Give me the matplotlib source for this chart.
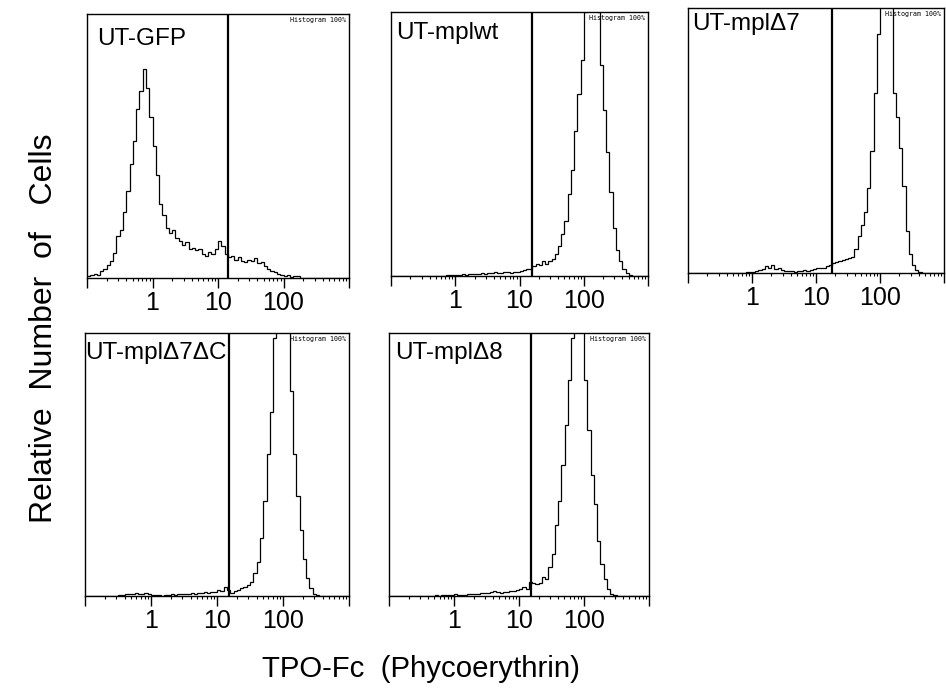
import matplotlib

matplotlib.use("Agg")
import matplotlib.pyplot as plt
import numpy as np
from matplotlib.ticker import FixedLocator, NullFormatter

plt.rcParams["font.family"] = ["Liberation Sans", "DejaVu Sans"]

# 80 channels spread evenly over four log decades (0.1 .. 1000)
N_BINS = 80
DECADES = (-1, 3)

PANEL_NAMES = ["UT-GFP", "UT-mplwt", "UT-mplΔ7", "UT-mplΔ7ΔC", "UT-mplΔ8"]

# gate marker position for each panel (TPO-Fc intensity)
GATES = [14.4, 15.8, 18.0, 15.4, 15.1]

# relative counts per channel, 100 = top of the frame
GFP_COUNTS = [
    0.6, 1.0, 1.5, 1.2, 2.8, 3.5, 5.0, 6.5, 9.5, 16,
    18, 25, 33, 43, 52, 64, 71, 79, 72, 61,
    50, 39, 28, 24, 19, 17, 18, 15, 14, 12.5,
    13.5, 11, 11.5, 10.5, 11, 9, 8.5, 10, 9, 11,
    14, 12, 9, 8, 8.5, 7, 8, 6.5, 6, 7,
    6.5, 7.5, 5.5, 6, 4.5, 3.5, 2.5, 2.2, 1.5, 1.2,
    0.8, 1.0, 0.5, 0.7, 0.8, 0, 0, 0, 0, 0,
    0, 0, 0, 0, 0, 0, 0, 0, 0, 0,
]
MPLWT_COUNTS = [
    0, 0, 0, 0, 0, 0, 0, 0, 0, 0,
    0, 0, 0, 0, 0, 0, 0, 0.2, 0.3, 0.2,
    0.4, 0.3, 0.6, 0.4, 0.6, 0.7, 0.9, 0.8, 1.1, 0.9,
    1.3, 1.0, 1.4, 1.1, 1.2, 1.6, 1.4, 1.3, 1.7, 1.5,
    1.9, 2.2, 2.5, 2.8, 3.8, 4.6, 4.0, 5.5, 4.6, 5.8,
    6.6, 8.5, 11.5, 16, 21, 31, 40, 55, 69, 82,
    100, 112, 118, 110, 100, 80, 63, 47, 32, 18,
    10, 5.5, 2.5, 1.0, 0.4, 0, 0, 0, 0, 0,
]
D7_COUNTS = [
    0, 0, 0, 0, 0, 0, 0, 0, 0, 0,
    0, 0, 0, 0, 0, 0, 0, 0, 0.2, 0.3,
    0.5, 0.6, 1.0, 1.5, 2.6, 1.9, 2.9, 1.6, 2.0, 1.1,
    0.8, 0.6, 0.7, 0.5, 0.7, 0.9, 1.1, 0.9, 1.2, 1.5,
    1.9, 1.7, 2.0, 2.5, 3.1, 3.8, 4.3, 4.5, 4.8, 5.2,
    5.6, 6.2, 9, 14, 18, 23, 32, 46, 68, 90,
    104, 112, 115, 110, 68, 59, 47, 33, 16, 7,
    3, 1.3, 0.4, 0, 0, 0, 0, 0, 0, 0,
]
D7DC_COUNTS = [
    0, 0, 0, 0, 0, 0, 0, 0, 0, 0,
    0.3, 0.5, 0.7, 0.9, 0.6, 1.1, 0.8, 0.9, 1.2, 0.7,
    0.5, 0.3, 0.2, 0.1, 0.3, 0.4, 0.6, 0.5, 0.8, 0.6,
    0.8, 0.7, 1.0, 0.9, 1.2, 1.0, 1.4, 1.3, 1.7, 1.5,
    2.3, 2.0, 3.4, 2.2, 1.2, 1.8, 2.4, 2.9, 3.5, 4.2,
    5.4, 8.6, 13, 22, 36, 54, 70, 98, 108, 112,
    110, 102, 78, 54, 38, 25, 14, 7, 3, 0.9,
    0.3, 0, 0, 0, 0, 0, 0, 0, 0, 0,
]
D8_COUNTS = [
    0, 0, 0, 0, 0, 0, 0, 0, 0, 0,
    0, 0, 0, 0, 0.2, 0.1, 0.3, 0.2, 0.3, 0.4,
    0.6, 0.4, 0.3, 0.5, 0.7, 0.6, 0.9, 0.7, 1.0, 1.2,
    1.0, 1.5, 2.0, 1.6, 1.1, 1.4, 1.7, 1.9, 2.0, 2.4,
    2.6, 3.4, 2.5, 5.2, 5.0, 4.4, 4.8, 7.2, 6.5, 11,
    16, 27, 36, 50, 65, 82, 98, 106, 110, 104,
    82, 63, 46, 35, 21, 12, 6.5, 2.8, 0.8, 0.3,
    0, 0, 0, 0, 0, 0, 0, 0, 0, 0,
]
PANEL_COUNTS = [GFP_COUNTS, MPLWT_COUNTS, D7_COUNTS, D7DC_COUNTS, D8_COUNTS]

# panel frames in pixels: left, top, right, bottom
FIG_W, FIG_H = 946, 688
PANEL_BOXES = [
    (87, 14, 349, 278),
    (391, 12, 648, 276),
    (688, 8, 944, 273),
    (85, 333, 349, 596),
    (389, 333, 649, 596),
]
# name offset from frame top-left, pixels
NAME_OFFSETS = [(10, 14), (5, 10), (4, 5), (0.5, 9), (6, 9)]


def style_panel(ax: plt.Axes) -> None:
    ax.set_xscale("log")
    ax.set_xlim(10.0 ** DECADES[0], 10.0 ** DECADES[1])
    ax.set_ylim(0, 100)
    ax.xaxis.set_major_locator(FixedLocator([0.1, 1, 10, 100, 1000]))
    ax.set_xticklabels(["", "1", "10", "100", ""])
    minors = [m * 10.0 ** d for d in range(-1, 3) for m in range(2, 10)]
    ax.xaxis.set_minor_locator(FixedLocator(minors))
    ax.xaxis.set_minor_formatter(NullFormatter())
    ax.tick_params(axis="x", which="major", direction="out", length=7, width=1.0,
                   labelsize=18, pad=2.5)
    ax.tick_params(axis="x", which="minor", direction="out", length=2.5, width=0.8)
    ax.set_yticks([])
    for side in ["left", "right", "top", "bottom"]:
        ax.spines[side].set_linewidth(1.0)
        ax.spines[side].set_color("black")


def draw_panel(ax: plt.Axes, name: str, counts: list, gate: float, offset: tuple) -> None:
    edges = np.logspace(DECADES[0], DECADES[1], N_BINS + 1)
    ax.stairs(np.asarray(counts, dtype=float), edges, color="black", linewidth=0.9,
              baseline=None)
    ax.axvline(gate, color="black", linewidth=1.6)
    style_panel(ax)
    bbox = ax.get_position()
    w_px = bbox.width * FIG_W
    h_px = bbox.height * FIG_H
    ax.text(offset[0] / w_px, 1 - offset[1] / h_px, name, transform=ax.transAxes,
            ha="left", va="top", fontsize=17.5)
    ax.text(1 - 3 / w_px, 1 - 3 / h_px, "Histogram 100%", transform=ax.transAxes,
            ha="right", va="top", fontsize=4.8, family="DejaVu Sans Mono")


def main() -> None:
    fig = plt.figure(figsize=(FIG_W / 100, FIG_H / 100), dpi=100)
    for name, counts, gate, box, offset in zip(PANEL_NAMES, PANEL_COUNTS, GATES,
                                                 PANEL_BOXES, NAME_OFFSETS):
        left, top, right, bottom = box
        ax = fig.add_axes([left / FIG_W, 1 - bottom / FIG_H,
                           (right - left) / FIG_W, (bottom - top) / FIG_H])
        draw_panel(ax, name, counts, gate, offset)

    fig.text(44 / FIG_W, 1 - 328 / FIG_H, "Relative  Number  of   Cells", rotation=90,
             ha="center", va="center", fontsize=23)
    fig.text(421 / FIG_W, 1 - 677 / FIG_H, "TPO-Fc  (Phycoerythrin)",
             ha="center", va="baseline", fontsize=21.2)
    fig.savefig("out.png", dpi=100)
    plt.close(fig)


if __name__ == "__main__":
    main()
